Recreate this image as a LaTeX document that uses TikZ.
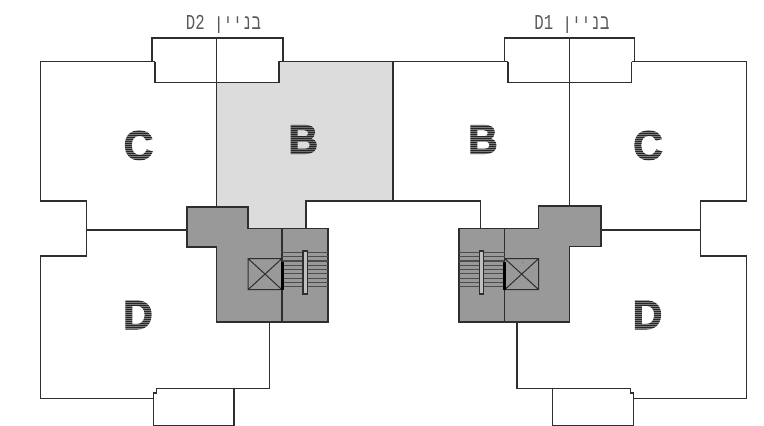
\documentclass[tikz,border=0pt]{standalone}
\usepackage{fontspec}
\setmainfont{Liberation Sans}[BoldFeatures={FakeBold=2.5}]
\newfontfamily\hebmono[Script=Hebrew]{Liberation Mono}
\TeXXeTstate=1
\definecolor{wallc}{HTML}{2E2E2E}
\definecolor{coreg}{HTML}{999999}
\definecolor{unitg}{HTML}{DCDCDC}
\tikzset{
  wall/.style={draw=wallc,line width=1.05pt,line join=miter},
  unitlabel/.style={anchor=base,inner sep=0pt,font=\bfseries\fontsize{41}{41}\selectfont,text=black!85},
  stripeline/.style={draw=#1,line width=0.6pt,draw opacity=0.4},
  title/.style={anchor=base,inner sep=0pt,text=black!65,font=\hebmono\fontsize{17}{17}\selectfont},
  rail/.style={draw=wallc,fill=black!25,line width=1.1pt},
  tread/.style={draw=black!70,line width=1.2pt},
  shaft/.style={draw=wallc,line width=1pt},
  thickbar/.style={draw=black,line width=3pt}
}
\begin{document}
\begin{tikzpicture}[x=1pt,y=-1pt]
\useasboundingbox (0,0) rectangle (764,426);
% fills
\fill[unitg] (216.5,82.5) -- (279,82.5) -- (279,61.5) -- (393,61.5) -- (393,201) -- (306,201) -- (306,228.5) -- (248,228.5) -- (248,207) -- (216.5,207) -- cycle;
% left building outline
\draw[wall] (155,61.5) -- (40.5,61.5) -- (40.5,201) -- (86.5,201) -- (86.5,256) -- (40.5,256) -- (40.5,398.7) -- (153.5,398.7) -- (153.5,393) -- (156.5,393) -- (156.5,388.7) -- (269.5,388.7) -- (269.5,322);
\draw[wall] (155,61.5) -- (155,82.5) -- (279,82.5) -- (279,61.5) -- (393,61.5) -- (393,201) -- (306,201) -- (306,228.5);
\draw[wall] (152,61.5) -- (152,38) -- (283,38) -- (283,61.5);
\draw[wall] (216.5,38) -- (216.5,207);
\draw[wall] (86.5,230) -- (187,230);
\draw[wall] (153.5,398.7) -- (153.5,425.3) -- (234,425.3) -- (234,388.7);
% right building outline
\draw[wall] (393,61.5) -- (508,61.5);
\draw[wall] (393,201) -- (480.3,201) -- (480.3,228.5);
\draw[wall] (504.3,61.5) -- (504.3,38) -- (634.3,38) -- (634.3,61.5);
\draw[wall] (631.7,61.5) -- (746.3,61.5) -- (746.3,201) -- (700.7,201) -- (700.7,256) -- (746.3,256) -- (746.3,398.7) -- (633.7,398.7) -- (633.7,393) -- (630.3,393) -- (630.3,388.7) -- (517,388.7) -- (517,322);
\draw[wall] (508,61.5) -- (508,82.5) -- (631.7,82.5) -- (631.7,61.5);
\draw[wall] (569.3,38) -- (569.3,206);
\draw[wall] (601,230) -- (700.7,230);
\draw[wall] (552.7,388.7) -- (552.7,425.3) -- (633.7,425.3) -- (633.7,398.7);
% left core
\draw[wall,fill=coreg] (187,207) -- (248,207) -- (248,228.5) -- (328,228.5) -- (328,322) -- (216.5,322) -- (216.5,247) -- (187,247) -- cycle;
\draw[wall] (282,228.5) -- (282,322);
\foreach \yy in {252.3,256.6,260.9,265.2,269.5,273.8,278.1,282.4,286.7}
  \draw[tread] (282,\yy) -- (328,\yy);
\draw[rail] (303,251) rectangle (307.3,294);
\draw[shaft] (248,258.5) rectangle (282,289.7) (248,258.5) -- (282,289.7) (248,289.7) -- (282,258.5);
\draw[thickbar] (282.3,262) -- (282.3,289.7);
% right core
\draw[wall,fill=coreg] (459,228.5) -- (538.7,228.5) -- (538.7,206) -- (601,206) -- (601,246.7) -- (569.7,246.7) -- (569.7,322) -- (459,322) -- cycle;
\draw[wall] (504.7,228.5) -- (504.7,322);
\foreach \yy in {252.3,256.6,260.9,265.2,269.5,273.8,278.1,282.4,286.7}
  \draw[tread] (459,\yy) -- (504.7,\yy);
\draw[rail] (479.3,251) rectangle (483.7,294);
\draw[shaft] (504.7,258.5) rectangle (538.7,289.7) (504.7,258.5) -- (538.7,289.7) (504.7,289.7) -- (538.7,258.5);
\draw[thickbar] (504.4,262) -- (504.4,289.7);
\fill[wallc!70] (522.7,262.7) circle (0.7pt);
% unit labels
\node[unitlabel] (bl) at (303.3,153.5) {B};
\node[unitlabel] (cl) at (138.5,159.5) {C};
\node[unitlabel] (dl) at (138,329) {D};
\node[unitlabel] (br) at (483,153.5) {B};
\node[unitlabel] (cr) at (648,159.5) {C};
\node[unitlabel] (dr) at (647.5,329) {D};
\foreach \s in {0,2,...,30}
  \draw[stripeline=unitg] ([yshift=-\s pt]bl.north west) -- ([yshift=-\s pt]bl.north east);
\foreach \n in {cl,dl,br,cr,dr}
  \foreach \s in {0,2,...,30}
    \draw[stripeline=white] ([yshift=-\s pt]\n.north west) -- ([yshift=-\s pt]\n.north east);
% titles
\node[title] (t2) at (223.5,29) {\scalebox{0.92}[1.25]{\beginR בניין \beginL D2\endL\endR}};
\node[title] (t1) at (572,29) {\scalebox{0.92}[1.25]{\beginR בניין \beginL D1\endL\endR}};
\end{tikzpicture}
\end{document}
